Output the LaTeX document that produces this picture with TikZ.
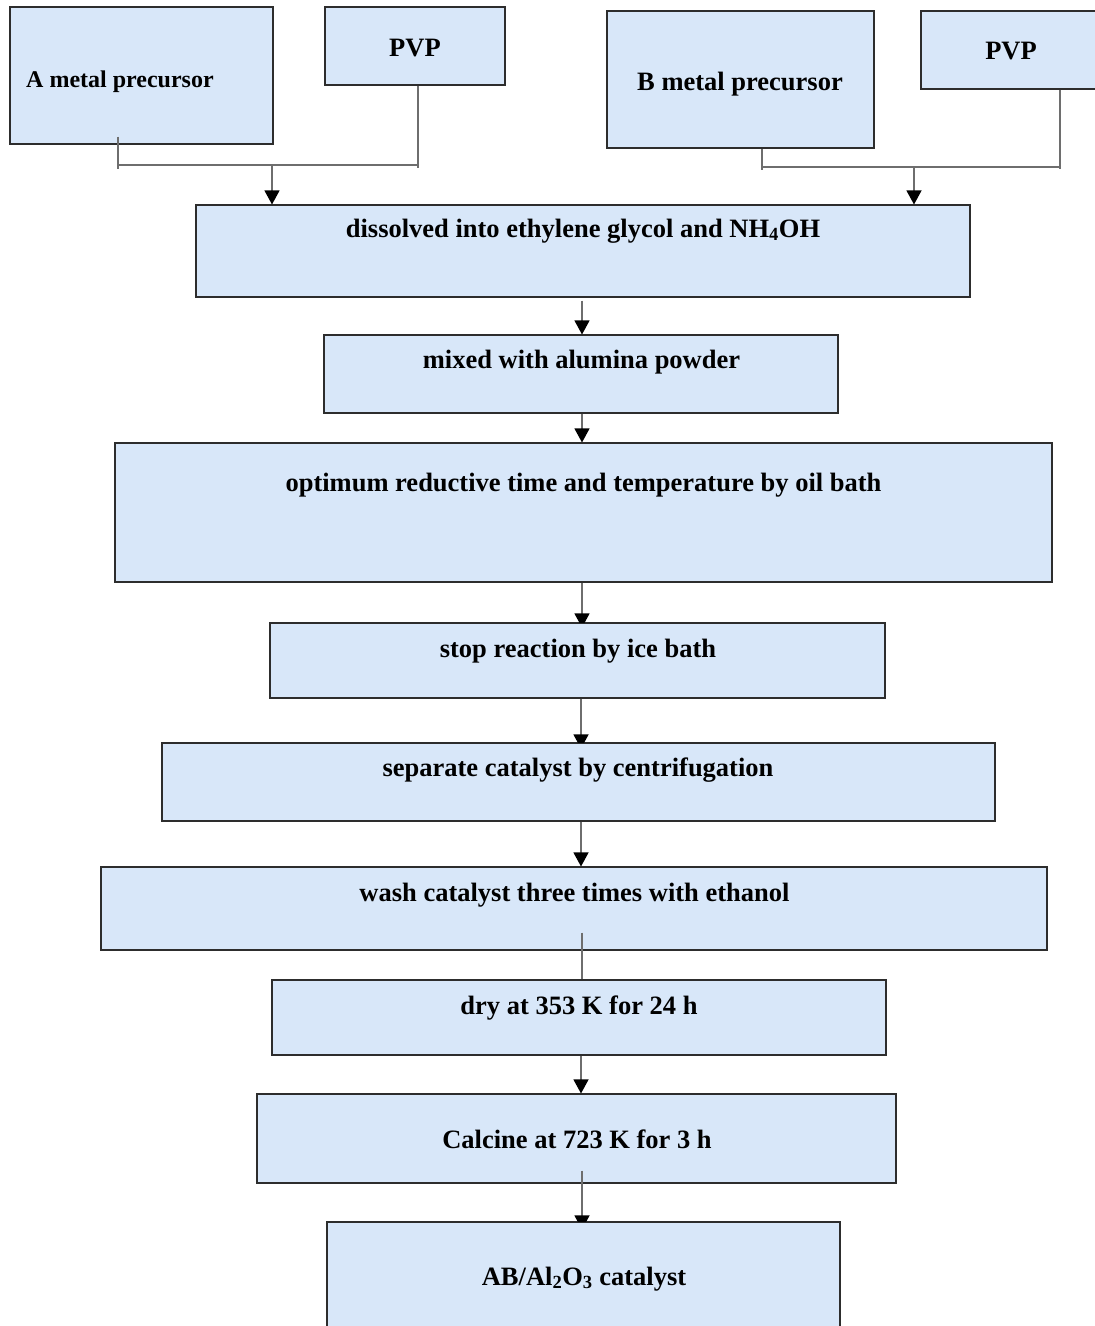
\documentclass[tikz,border=0pt]{standalone}
\usepackage{fontspec}
\setmainfont{Liberation Serif}
\usetikzlibrary{arrows.meta,calc}
\definecolor{boxfill}{RGB}{216,231,249}
\definecolor{boxline}{RGB}{45,45,45}
\definecolor{connline}{RGB}{110,110,110}
\begin{document}
\begin{tikzpicture}[x=1pt,y=-1pt,
  box/.style={draw=boxline, line width=1.1pt, fill=boxfill, inner sep=0pt, rectangle},
  lbl/.style={inner sep=0pt, anchor=base, font=\fontsize{26.5}{30}\selectfont\bfseries},
  conn/.style={draw=connline, line width=1.2pt},
  arr/.style={conn, -{Triangle[length=14pt,width=15pt,color=black]}}]
\useasboundingbox (0,0) rectangle (1095,1326);
\coordinate (R) at (1095,0);
\coordinate (col) at (582,0);
% top boxes
\node[box, minimum width=263, minimum height=137] (a) at (141.5,75.5) {};
\node[lbl, anchor=base west, font=\fontsize{24}{28}\selectfont\bfseries] (ta) at (26,87) {A metal precursor};
\node[box, minimum width=180, minimum height=78] (pvpl) at (415,46) {};
\node[lbl] (tpvpl) at (415,56) {PVP};
\node[box, minimum width=267, minimum height=137] (b) at (740.5,79.5) {};
\node[lbl] (tb) at (740,90) {B metal precursor};
\node[box, minimum width=189, minimum height=78] (pvpr) at (1015.5,50) {};
\node[lbl] (tpvpr) at (1011,59) {PVP};
% main boxes
\node[box, minimum width=774, minimum height=92] (dis) at (583,251) {};
\node[lbl] (tdis) at (583,237) {dissolved into ethylene glycol and NH\textsubscript{4}OH};
\node[box, minimum width=514, minimum height=78] (mix) at (581,374) {};
\node[lbl] (tmix) at (581.5,368) {mixed with alumina powder};
\node[box, minimum width=937, minimum height=139] (opt) at (583.5,512.5) {};
\node[lbl] (topt) at (583.5,491) {optimum reductive time and temperature by oil bath};
\node[box, minimum width=615, minimum height=75] (stop) at (577.5,660.5) {};
\node[lbl] (tstop) at (578,657) {stop reaction by ice bath};
\node[box, minimum width=833, minimum height=78] (sep) at (578.5,782) {};
\node[lbl] (tsep) at (578,776) {separate catalyst by centrifugation};
\node[box, minimum width=946, minimum height=83] (wash) at (574,908.5) {};
\node[lbl] (twash) at (574.5,901) {wash catalyst three times with ethanol};
\node[box, minimum width=614, minimum height=75] (dry) at (579,1017.5) {};
\node[lbl] (tdry) at (579,1014) {dry at 353 K for 24 h};
\node[box, minimum width=639, minimum height=89] (cal) at (576.5,1138.5) {};
\node[lbl] (tcal) at (577,1148) {Calcine at 723 K for 3 h};
\node[box, minimum width=513, minimum height=125] (ab) at (583.5,1284.5) {};
\node[lbl] (tab) at (584,1285) {AB/Al\textsubscript{2}O\textsubscript{3} catalyst};
% top-left joiner
\coordinate (ja) at (118,165);
\coordinate (jp) at (418,165);
\coordinate (ma) at (272,166);
\draw[conn] ($(a.south -| ja)+(0,-8)$) -- ($(ja)+(0,4)$);
\draw[conn] (pvpl.south -| jp) -- ($(jp)+(0,3)$);
\draw[conn] (ja) -- (jp);
\draw[arr] (ma) -- (dis.north -| ma);
% top-right joiner
\coordinate (jb) at (762,167);
\coordinate (jq) at (1060,167);
\coordinate (mb) at (914,167);
\draw[conn] (b.south -| jb) -- ($(jb)+(0,3)$);
\draw[conn] (pvpr.south -| jq) -- ($(jq)+(0,2)$);
\draw[conn] (jb) -- (jq);
\draw[arr] (mb) -- (dis.north -| mb);
% main column
\draw[arr] ($(dis.south -| col)+(0,3)$) -- (mix.north -| col);
\draw[arr] (mix.south -| col) -- (opt.north -| col);
\begin{scope}
  \clip (0,0) rectangle (R |- stop.north);
  \draw[arr] (opt.south -| col) -- ($(stop.north -| col)+(0,5)$);
\end{scope}
\begin{scope}
  \clip (0,0) rectangle (R |- sep.north);
  \draw[arr] ($(stop.south -| col)+(-1,0)$) -- ($(sep.north -| col)+(-1,6)$);
\end{scope}
\draw[arr] ($(sep.south -| col)+(-1,0)$) -- ($(wash.north -| col)+(-1,0)$);
\draw[conn] ($(wash.south -| col)+(0,-18)$) -- (dry.north -| col);
\draw[arr] ($(dry.south -| col)+(-1,0)$) -- ($(cal.north -| col)+(-1,0)$);
\begin{scope}
  \clip (0,0) rectangle (R |- ab.north);
  \draw[arr] ($(cal.south -| col)+(0,-13)$) -- ($(ab.north -| col)+(0,8)$);
\end{scope}
\end{tikzpicture}
\end{document}
